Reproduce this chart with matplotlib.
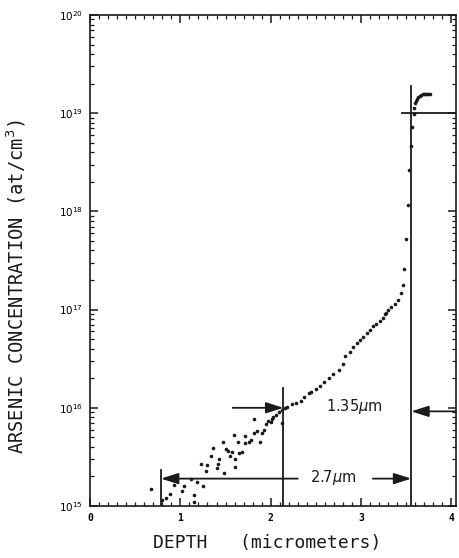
import numpy as np
import matplotlib
matplotlib.use("Agg")
import matplotlib.pyplot as plt
from matplotlib.ticker import MultipleLocator, LogLocator, NullFormatter, FixedLocator

# ---- data (depth in micrometers, log10 of concentration) ----
depth_scatter = [0.68, 0.80, 0.84, 0.89, 0.93, 1.02, 1.04, 1.12, 1.15, 1.15, 1.18, 1.23,
                 1.25, 1.28, 1.30, 1.34, 1.36, 1.40, 1.42, 1.43, 1.47, 1.48, 1.51, 1.53,
                 1.55, 1.57, 1.59, 1.60, 1.61, 1.64, 1.65, 1.68, 1.71, 1.72, 1.76, 1.78,
                 1.81, 1.81, 1.85, 1.88, 1.90, 1.92, 1.95, 1.97, 2.00, 2.01, 2.03, 2.06,
                 2.09, 2.12]
logc_scatter = [15.17, 15.06, 15.08, 15.12, 15.21, 15.15, 15.20, 15.27, 15.11, 15.04, 15.24, 15.43,
                15.20, 15.36, 15.42, 15.51, 15.59, 15.39, 15.43, 15.48, 15.65, 15.34, 15.58, 15.56,
                15.51, 15.55, 15.72, 15.40, 15.48, 15.65, 15.54, 15.55, 15.64, 15.71, 15.65, 15.67,
                15.89, 15.74, 15.76, 15.65, 15.74, 15.77, 15.83, 15.87, 15.86, 15.89, 15.91, 15.93,
                15.96, 15.85]

depth_curve = [2.12, 2.16, 2.18, 2.23, 2.28, 2.33, 2.37, 2.42, 2.45, 2.50, 2.55, 2.59, 2.64,
               2.69, 2.75, 2.80, 2.82, 2.88, 2.91, 2.95, 2.99, 3.02, 3.06, 3.10, 3.13, 3.17,
               3.21, 3.24, 3.26, 3.28, 3.30, 3.33, 3.37, 3.41, 3.44, 3.46]
logc_curve = [15.98, 16.00, 16.01, 16.04, 16.05, 16.07, 16.11, 16.15, 16.16, 16.19, 16.22, 16.26,
              16.30, 16.34, 16.39, 16.45, 16.53, 16.57, 16.62, 16.66, 16.69, 16.72, 16.76, 16.79,
              16.83, 16.85, 16.88, 16.91, 16.96, 16.97, 17.00, 17.03, 17.06, 17.10, 17.17, 17.25]

depth_surface = [3.48, 3.50, 3.52, 3.53, 3.55, 3.56, 3.58, 3.59, 3.60, 3.61, 3.62, 3.635,
                 3.65, 3.665, 3.68, 3.695, 3.71, 3.725, 3.74, 3.76]
logc_surface = [17.41, 17.72, 18.07, 18.42, 18.67, 18.86, 18.99, 19.05, 19.10, 19.12, 19.14, 19.16,
                19.18, 19.19, 19.20, 19.20, 19.20, 19.20, 19.20, 19.20]

x_ticks = [0, 1, 2, 3, 4]
y_ticks = [1e15, 1e16, 1e17, 1e18, 1e19, 1e20]
y_ticklabels = ["$10^{15}$", "$10^{16}$", "$10^{17}$", "$10^{18}$", "$10^{19}$", "$10^{20}$"]

# junction / marker lines
x_left = 0.785
x_mid = 2.14
x_right = 3.555
c_low = 1.9e15
c_mid = 1.0e16
c_right_arrow = 9.2e15
c_top = 1.0e19

fig = plt.figure(figsize=(4.59, 5.58), dpi=100)
ax = fig.add_axes([90 / 459, 52 / 558, 366 / 459, 491 / 558])

ax.set_yscale("log")
ax.set_xlim(0, 4.05)
ax.set_ylim(1e15, 1e20)

allx = depth_scatter + depth_curve + depth_surface
ally = [10 ** v for v in logc_scatter + logc_curve + logc_surface]
ax.plot(allx, ally, linestyle="none", marker="o", markersize=2.6, color="#1a1a1a",
        markeredgewidth=0)

lw = 1.3
col = "#1a1a1a"
# vertical lines
ax.plot([x_right, x_right], [1e15, 1.9e19], color=col, lw=lw)
ax.plot([x_mid, x_mid], [1e15, 1.6e16], color=col, lw=lw)
ax.plot([x_left, x_left], [1e15, 2.35e15], color=col, lw=lw)
# top horizontal
ax.plot([3.45, 4.05], [c_top, c_top], color=col, lw=lw)

aprops = dict(arrowstyle="-|>,head_length=0.75,head_width=0.24", color=col, lw=lw,
              mutation_scale=14, shrinkA=0, shrinkB=0)
# upper arrows (1.35 um)
ax.annotate("", xy=(x_mid, c_mid), xytext=(1.58, c_mid), arrowprops=aprops)
ax.annotate("", xy=(x_right, c_right_arrow), xytext=(4.05, c_right_arrow), arrowprops=aprops)
ax.text(2.93, 1.03e16, "1.35$\\mu$m", ha="center", va="center", fontsize=10.5, color=col)
# lower arrows (2.7 um)
ax.annotate("", xy=(x_left, c_low), xytext=(2.30, c_low), arrowprops=aprops)
ax.annotate("", xy=(x_right, c_low), xytext=(3.13, c_low), arrowprops=aprops)
ax.text(2.69, 1.93e15, "2.7$\\mu$m", ha="center", va="center", fontsize=10.5, color=col)

# axes styling
for s in ax.spines.values():
    s.set_linewidth(1.2)
    s.set_color(col)

ax.xaxis.set_major_locator(FixedLocator(x_ticks))
ax.xaxis.set_minor_locator(MultipleLocator(0.1))
ax.set_xticklabels([str(t) for t in x_ticks], fontsize=7, fontweight="bold",
                   family="DejaVu Sans Mono")
ax.yaxis.set_major_locator(FixedLocator(y_ticks))
ax.yaxis.set_minor_locator(LogLocator(base=10, subs=np.arange(2, 10), numticks=20))
ax.yaxis.set_minor_formatter(NullFormatter())
ax.set_yticklabels(y_ticklabels, fontsize=7.5)

ax.tick_params(which="both", direction="in", top=True, right=True, color=col)
ax.tick_params(which="major", length=6, width=1.1, pad=5)
ax.tick_params(which="minor", length=3, width=0.9)

mono = "DejaVu Sans Mono"
ax.set_xlabel("DEPTH   (micrometers)", fontsize=13, family=mono, color=col)
ax.xaxis.set_label_coords((267 - 90) / 366, -(534 - 506) / 491)
ax.set_ylabel("ARSENIC CONCENTRATION (at/cm$^3$)", fontsize=13.5, family=mono, color=col)
ax.yaxis.set_label_coords((28 - 90) / 366, (506 - 287) / 491)

fig.savefig("out.png", dpi=100)
